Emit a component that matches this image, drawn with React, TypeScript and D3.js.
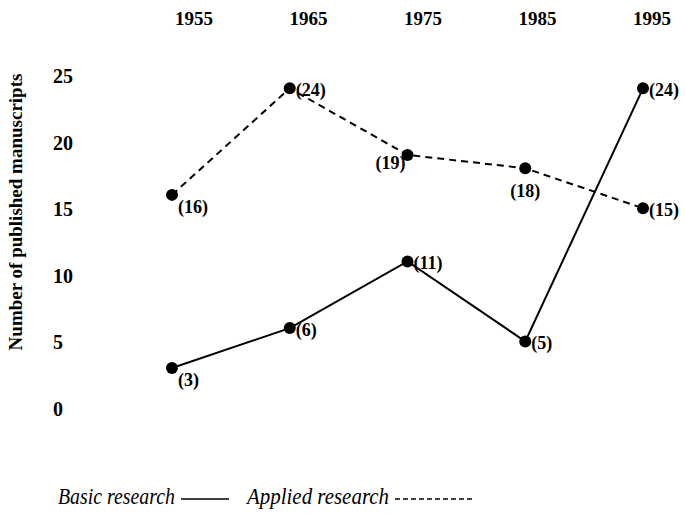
import * as d3 from 'd3';
import React, { useEffect, useRef } from 'react';

const years = [1955, 1965, 1975, 1985, 1995];
const basicResearch = [3, 6, 11, 5, 24];
const appliedResearch = [16, 24, 19, 18, 15];
const yTicks = [0, 5, 10, 15, 20, 25];
// where the value label sits next to each dot
const basicLabelSide = ['br', 'r', 'r', 'r', 'r'];
const appliedLabelSide = ['br', 'r', 'bl', 'b', 'r'];

const App = () => {
  const svgRef = useRef<SVGSVGElement>(null);

  useEffect(() => {
    const width = 685;
    const height = 514;
    const font = '"Liberation Serif", "Times New Roman", serif';

    const svg = d3.select(svgRef.current).attr('width', width).attr('height', height);
    svg.selectAll('*').remove();

    const x = d3.scaleLinear().domain([1955, 1995]).range([172, 643]);
    // the year header is spaced a little tighter than the points
    const xHeader = d3.scaleLinear().domain([1955, 1995]).range([194, 652]);
    const y = d3.scaleLinear().domain([0, 25]).range([408, 75]);

    // year labels on top
    svg
      .append('g')
      .selectAll('text')
      .data(years)
      .join('text')
      .attr('x', (d) => xHeader(d))
      .attr('y', 18)
      .attr('text-anchor', 'middle')
      .attr('dominant-baseline', 'central')
      .attr('font-family', font)
      .attr('font-weight', 'bold')
      .attr('font-size', 19)
      .text((d) => d);

    // y tick labels
    svg
      .append('g')
      .selectAll('text')
      .data(yTicks)
      .join('text')
      .attr('x', 53)
      .attr('y', (d) => y(d) + 1)
      .attr('dominant-baseline', 'central')
      .attr('font-family', font)
      .attr('font-weight', 'bold')
      .attr('font-size', 20)
      .text((d) => d);

    // y axis title
    svg
      .append('text')
      .attr('transform', `translate(15, 212) rotate(-90)`)
      .attr('text-anchor', 'middle')
      .attr('dominant-baseline', 'central')
      .attr('font-family', font)
      .attr('font-weight', 'bold')
      .attr('font-size', 19)
      .text('Number of published manuscripts');

    const line = d3
      .line<number>()
      .x((_, i) => x(years[i]))
      .y((d) => y(d));

    const drawSeries = (values: number[], sides: string[], dash: string | null) => {
      const g = svg.append('g');
      g.append('path')
        .datum(values)
        .attr('d', line)
        .attr('fill', 'none')
        .attr('stroke', '#000')
        .attr('stroke-width', 2)
        .attr('stroke-dasharray', dash);
      g.selectAll('circle')
        .data(values)
        .join('circle')
        .attr('cx', (_, i) => x(years[i]))
        .attr('cy', (d) => y(d))
        .attr('r', 6)
        .attr('fill', '#000');
      g.selectAll('text')
        .data(values)
        .join('text')
        .attr('x', (_, i) => {
          const s = sides[i];
          const cx = x(years[i]);
          if (s === 'bl') return cx - 2;
          if (s === 'b') return cx;
          return cx + 6;
        })
        .attr('y', (d, i) => {
          const s = sides[i];
          const cy = y(d);
          if (s === 'br') return cy + 12;
          if (s === 'bl') return cy + 8;
          if (s === 'b') return cy + 23;
          return cy + 2;
        })
        .attr('text-anchor', (_, i) => (sides[i] === 'bl' ? 'end' : sides[i] === 'b' ? 'middle' : 'start'))
        .attr('dominant-baseline', 'central')
        .attr('font-family', font)
        .attr('font-weight', 'bold')
        .attr('font-size', 18)
        .text((d) => `(${d})`);
    };

    drawSeries(basicResearch, basicLabelSide, null);
    drawSeries(appliedResearch, appliedLabelSide, '7,5');

    // legend
    const legend = svg.append('g').attr('font-family', font).attr('font-style', 'italic').attr('font-size', 23);
    const ly = 496;
    const x0 = 58;
    const w1 = 117;
    const w2 = 142;
    legend
      .append('text')
      .attr('x', x0)
      .attr('y', ly)
      .attr('dominant-baseline', 'central')
      .attr('textLength', w1)
      .attr('lengthAdjust', 'spacingAndGlyphs')
      .text('Basic research');
    legend
      .append('line')
      .attr('x1', x0 + w1 + 6)
      .attr('x2', x0 + w1 + 54)
      .attr('y1', ly + 3)
      .attr('y2', ly + 3)
      .attr('stroke', '#000')
      .attr('stroke-width', 1.5);
    legend
      .append('text')
      .attr('x', x0 + w1 + 72)
      .attr('y', ly)
      .attr('dominant-baseline', 'central')
      .attr('textLength', w2)
      .attr('lengthAdjust', 'spacingAndGlyphs')
      .text('Applied research');
    legend
      .append('line')
      .attr('x1', x0 + w1 + 72 + w2 + 6)
      .attr('x2', x0 + w1 + 72 + w2 + 84)
      .attr('y1', ly + 3)
      .attr('y2', ly + 3)
      .attr('stroke', '#000')
      .attr('stroke-width', 1.5)
      .attr('stroke-dasharray', '5,3');
  }, []);

  return <svg ref={svgRef} style={{ position: 'absolute', left: 0, top: 0 }} />;
};

export default App;
